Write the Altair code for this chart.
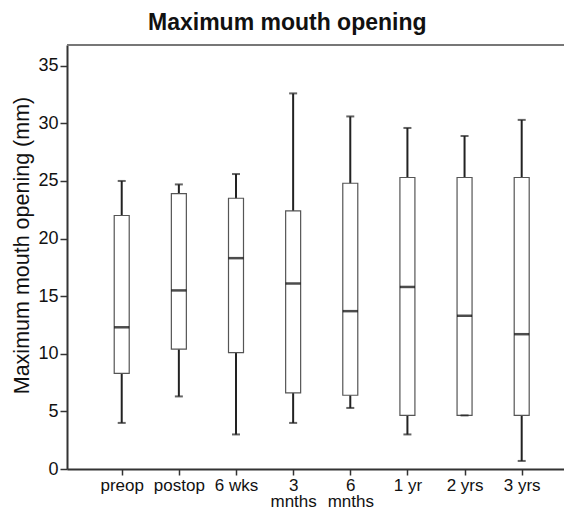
import altair as alt
import pandas as pd

categories = ["preop", "postop", "6 wks", "3 mnths", "6 mnths", "1 yr", "2 yrs", "3 yrs"]
whisker_low = [4.0, 6.3, 3.0, 4.0, 5.3, 3.0, 4.65, 0.7]
q1 = [8.3, 10.4, 10.1, 6.6, 6.4, 4.65, 4.65, 4.65]
median = [12.3, 15.5, 18.3, 16.1, 13.7, 15.8, 13.3, 11.7]
q3 = [22.0, 23.9, 23.5, 22.4, 24.8, 25.3, 25.3, 25.3]
whisker_high = [25.0, 24.7, 25.6, 32.6, 30.6, 29.6, 28.9, 30.3]
y_ticks = [0, 2.5, 5, 7.5, 10, 12.5, 15, 17.5, 20, 22.5, 25, 27.5, 30, 32.5, 35]

df = pd.DataFrame({
    "cat": categories, "lo": whisker_low, "q1": q1, "med": median,
    "q3": q3, "hi": whisker_high,
})

W, H = 497, 424
FONT = "Liberation Sans"

xenc = alt.X("cat:N", sort=categories,
             scale=alt.Scale(type="point", padding=0.849, align=0.564),
             axis=alt.Axis(title=None, labelAngle=0, labelFont=FONT, labelFontSize=17,
                           labelColor="#111", labelPadding=2, tickSize=6, tickWidth=1.5,
                           tickColor="#333", domainColor="#333", domainWidth=2,
                           labelLineHeight=16.5, labelBaseline="top",
                           labelExpr="indexof(datum.label, 'mnths') >= 0 ? split(datum.label, ' ') : datum.label"))

yscale = alt.Scale(domain=[0, 36.8], nice=False, zero=True)

base = alt.Chart(df)

whisk = base.mark_rule(color="#222", strokeWidth=2).encode(
    x=xenc,
    y=alt.Y("lo:Q", scale=yscale,
            axis=alt.Axis(title="Maximum mouth opening (mm)", values=y_ticks,
                          labelExpr="datum.value % 5 === 0 ? datum.label : ''",
                          tickSize={"condition": {"test": "datum.value % 5 === 0", "value": 7}, "value": 4},
                          tickColor="#333", tickWidth=1.5, domainColor="#333", domainWidth=2,
                          labelFont=FONT, labelFontSize=18, labelColor="#111", labelPadding=2,
                          titleFont=FONT, titleFontSize=21.5, titleFontWeight="normal",
                          titleColor="#111", titleX=-34, titleY=200, titleBaseline="bottom",
                          grid=False)),
    y2="hi:Q",
)

box = base.mark_bar(fill="white", stroke="#555", strokeWidth=1.2, size=15).encode(
    x=xenc, y=alt.Y("q1:Q", scale=yscale), y2="q3:Q")

med_tick = base.mark_tick(color="black", thickness=2.5, size=15).encode(
    x=xenc, y=alt.Y("med:Q", scale=yscale))

cap_lo = base.mark_tick(color="#222", thickness=2, size=8).encode(
    x=xenc, y=alt.Y("lo:Q", scale=yscale))
cap_hi = base.mark_tick(color="#222", thickness=2, size=8).encode(
    x=xenc, y=alt.Y("hi:Q", scale=yscale))

top_line = alt.Chart(pd.DataFrame({"a": [0]})).mark_rule(color="#777", strokeWidth=2).encode(
    x=alt.value(0), x2=alt.value(W), y=alt.value(0))

chart = alt.layer(whisk, box, med_tick, cap_lo, cap_hi, top_line).properties(
    width=W, height=H,
    title=alt.TitleParams("Maximum mouth opening", font=FONT, fontSize=23, fontWeight="bold",
                          color="#111", anchor="start", frame="group", dx=81, dy=25, offset=16,
                          baseline="alphabetic"),
    autosize=alt.AutoSizeParams(type="none"),
    padding={"left": 59, "top": 37, "right": 0, "bottom": 41},
).configure_view(stroke=None).configure(background="white")

chart.save("out.html", embed_options={"renderer": "svg", "actions": False})
